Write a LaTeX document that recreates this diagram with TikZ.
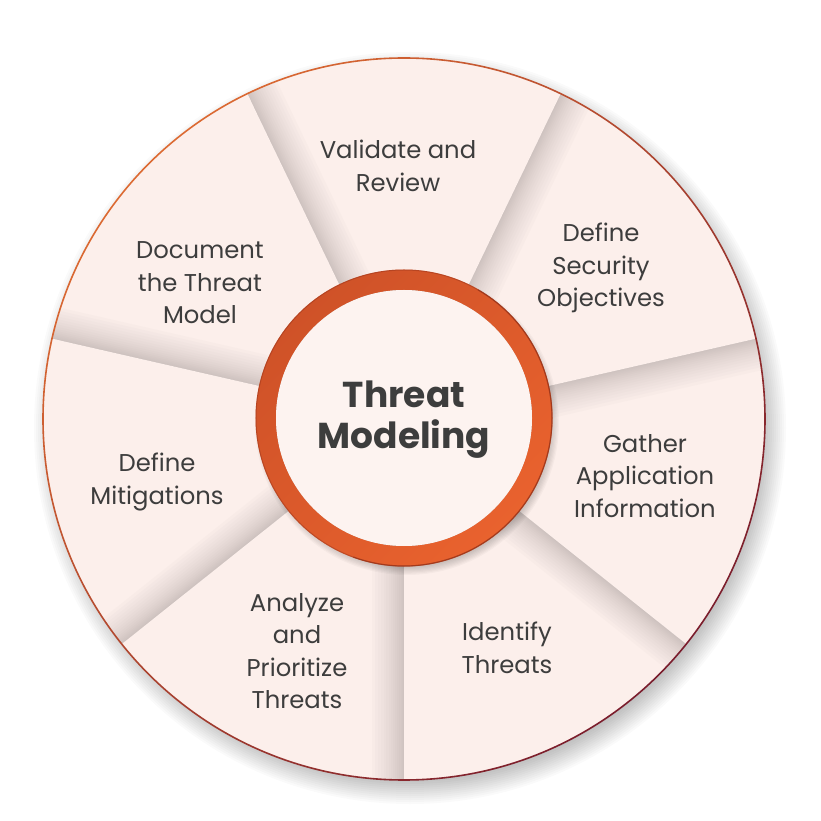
\documentclass[tikz,border=0pt]{standalone}
\usepackage{fontspec}
\setmainfont{Poppins}
\definecolor{segfill}{HTML}{FCEFEB}
\definecolor{shadowc}{HTML}{958A88}
\definecolor{txt}{HTML}{3D3D3D}
\definecolor{borderA}{HTML}{DC6A32}
\definecolor{borderB}{HTML}{7A1C2C}
\definecolor{ringA}{HTML}{CF5228}
\definecolor{ringB}{HTML}{E9622E}
\definecolor{ringD}{HTML}{8E2E18}
\definecolor{innerfill}{HTML}{FDF3F0}
\tikzset{
  lbl/.style={text=txt, align=center, font=\fontsize{24.3}{32.5}\selectfont, inner sep=0pt},
  title/.style={text=txt, align=center, font=\fontsize{36}{41}\selectfont\bfseries, inner sep=0pt}
}
\begin{document}
\begin{tikzpicture}[x=1pt,y=1pt]
\useasboundingbox (-404,-402) rectangle (417,419);
\fill[white] (-404,-402) rectangle (417,419);
\coordinate (C) at (0,0);
% outer drop shadow
\foreach \i in {0,...,14} \fill[black,opacity=0.018] (6,-9) circle ({348+\i*2});
% segments
\foreach \k in {0,...,6}{
  \pgfmathsetmacro\a{-90+\k*360/7}
  \pgfmathsetmacro\b{-90+(\k+1)*360/7}
  \begin{scope}
    \clip (C) -- (\a:361) arc[start angle=\a, end angle=\b, radius=361] -- cycle;
    \fill[segfill] (-400,-400) rectangle (400,400);
    \begin{scope}[rotate=\b]
      \foreach \j in {1,...,16} \fill[shadowc,opacity=0.03] (0,{-32*(\j/16)^1.6}) rectangle (362,0);
    \end{scope}
  \end{scope}
}
% outer border
\shade[even odd rule, top color=borderA, bottom color=borderB, shading angle=45] (C) circle (361.8) circle (360.2);
% ring shadow
\foreach \i in {0,...,10} \fill[black,opacity=0.028] (3,-4) circle ({140+\i*1.2});
% ring
\shade[even odd rule, top color=ringA, bottom color=ringB, shading angle=45] (0,1) circle (148.5) circle (128);
\draw[ringD, line width=1pt, opacity=0.4] (0,1) circle (148);
\draw[ringD, line width=1.2pt, opacity=0.6] (0,1) ++(-110:148) arc[start angle=-110, end angle=60, radius=148];
\fill[innerfill] (0,1) circle (128);
% texts
\node[title] (center) at (0,-1) {Threat\\Modeling};
\node[lbl] (validate) at (-6,253) {Validate and\\Review};
\node[lbl] (security) at (197,151) {Define\\Security\\Objectives};
\node[lbl] (gather) at (241,-57) {Gather\\Application\\Information};
\node[lbl] (identify) at (103,-229) {Identify\\Threats};
\node[lbl] (analyze) at (-107,-232) {Analyze\\and\\Prioritize\\Threats};
\node[lbl] (mitig) at (-247,-63) {Define\\Mitigations};
\node[lbl] (document) at (-204,136) {Document\\the Threat\\Model};
\end{tikzpicture}
\end{document}
